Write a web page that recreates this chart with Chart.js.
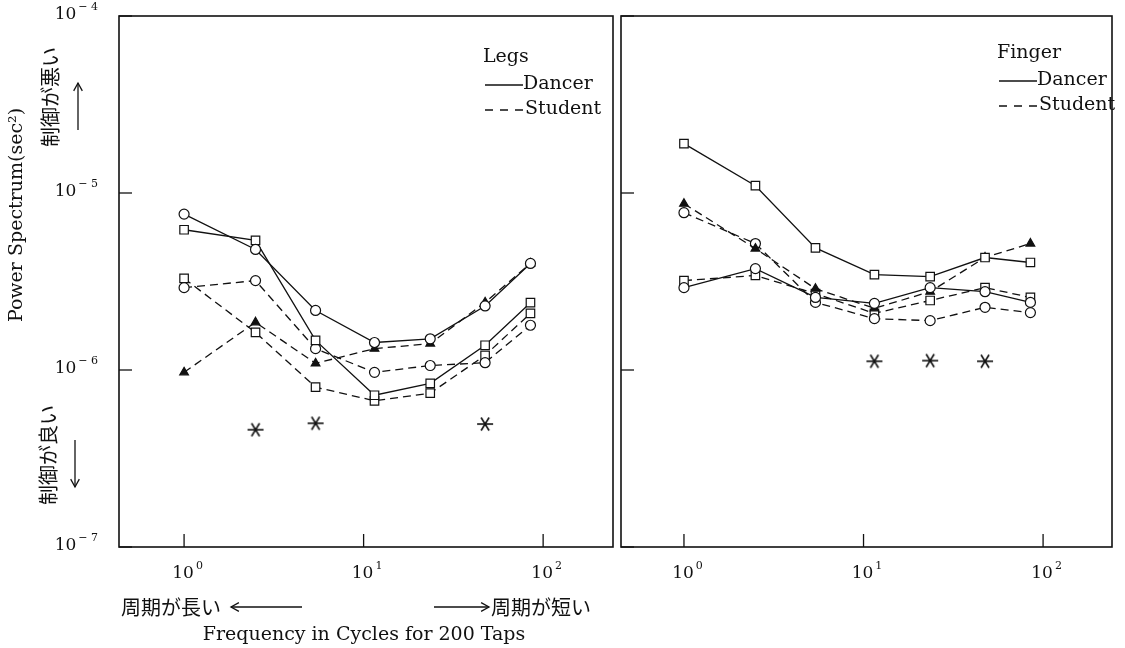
<!DOCTYPE html>
<html>
<head>
<meta charset="utf-8">
<script src="https://cdn.jsdelivr.net/npm/chart.js@4.4.0/dist/chart.umd.min.js"></script>
<style>
  html, body { margin: 0; padding: 0; background: #fff; }
  #wrap { position: relative; width: 1125px; height: 648px; }
  #legs { position: absolute; left: 0; top: 0; }
  #finger { position: absolute; left: 616px; top: 0; }
</style>
</head>
<body>
<div id="wrap">
  <canvas id="legs" width="616" height="648"></canvas>
  <canvas id="finger" width="509" height="648"></canvas>
</div>
<script>
/*  data  */

const freq = [1, 2.5, 5.4, 11.5, 23.5, 47.5, 85];
const yTicks = [1e-4, 1e-5, 1e-6, 1e-7];
const xTicks = [1, 10, 100];

// Legs
const legsDancerCircle   = [7.6e-6, 4.8e-6, 2.17e-6, 1.43e-6, 1.5e-6, 2.3e-6, 4.0e-6];
const legsDancerSquare   = [6.2e-6, 5.4e-6, 1.47e-6, 7.2e-7, 8.4e-7, 1.38e-6, 2.4e-6];
const legsStudentCircle  = [2.92e-6, 3.2e-6, 1.32e-6, 9.7e-7, 1.06e-6, 1.1e-6, 1.79e-6];
const legsStudentSquare  = [3.29e-6, 1.63e-6, 8.0e-7, 6.7e-7, 7.4e-7, 1.21e-6, 2.09e-6];
const legsStudentTri     = [9.7e-7, 1.86e-6, 1.09e-6, 1.32e-6, 1.41e-6, 2.41e-6, 4.0e-6];
const legsStarX = [2.5, 5.4, 47.5];
const legsStarY = [4.6e-7, 5.0e-7, 4.95e-7];

// Finger
const fingerDancerSquare  = [1.9e-5, 1.1e-5, 4.9e-6, 3.46e-6, 3.37e-6, 4.32e-6, 4.05e-6];
const fingerDancerCircle  = [2.92e-6, 3.74e-6, 2.57e-6, 2.38e-6, 2.92e-6, 2.77e-6, 2.41e-6];
const fingerStudentTri    = [8.7e-6, 4.85e-6, 2.88e-6, 2.23e-6, 2.77e-6, 4.32e-6, 5.18e-6];
const fingerStudentCircle = [7.74e-6, 5.18e-6, 2.41e-6, 1.95e-6, 1.9e-6, 2.26e-6, 2.11e-6];
const fingerStudentSquare = [3.2e-6, 3.42e-6, 2.7e-6, 2.09e-6, 2.47e-6, 2.92e-6, 2.57e-6];
const fingerStarX = [11.5, 23.5, 47.5];
const fingerStarY = [1.12e-6, 1.13e-6, 1.12e-6];

const SERIF = '"DejaVu Serif", "Liberation Serif", serif';
const JP = '"Noto Sans CJK JP", sans-serif';
const INK = '#111';


// asterisk used for the significance marks
function makeAsterisk() {
  const c = document.createElement('canvas');
  c.width = 18; c.height = 18;
  const g = c.getContext('2d');
  g.strokeStyle = INK;
  g.lineWidth = 1.6;
  [0, 60, 120].forEach(a => {
    const r = a * Math.PI / 180;
    g.beginPath();
    g.moveTo(9 - 8 * Math.cos(r), 9 - 7.5 * Math.sin(r));
    g.lineTo(9 + 8 * Math.cos(r), 9 + 7.5 * Math.sin(r));
    g.stroke();
  });
  return c;
}
const asterisk = makeAsterisk();

function series(label, values, style, dashed) {
  return {
    label: label,
    data: freq.map((f, i) => ({ x: f, y: values[i] })),
    borderColor: INK,
    borderWidth: 1.3,
    borderDash: dashed ? [8, 5] : [],
    pointStyle: style,
    pointRadius: style === 'rect' ? 6 : 5,
    pointBackgroundColor: style === 'triangle' ? INK : '#fff',
    pointBorderColor: INK,
    pointBorderWidth: 1.2,
    tension: 0
  };
}

function stars(xs, ys) {
  return {
    label: '*',
    data: xs.map((f, i) => ({ x: f, y: ys[i] })),
    showLine: false,
    pointStyle: asterisk,
    pointRadius: 8
  };
}

function panelOptions(padLeft, padRight, xmin, xmax) {
  return {
    responsive: false,
    animation: false,
    events: [],
    layout: { autoPadding: false, padding: { left: padLeft, right: padRight, top: 16, bottom: 101 } },
    scales: {
      x: { type: 'logarithmic', min: xmin, max: xmax, display: false },
      y: { type: 'logarithmic', min: 1e-7, max: 1e-4, display: false }
    },
    plugins: { legend: { display: false }, tooltip: { enabled: false } }
  };
}


/*  drawing helpers  */

function pow10(ctx, exp, x, y, align) {
  const sup = exp < 0 ? '\u2212 ' + (-exp) : String(exp);
  ctx.font = '17px ' + SERIF;
  const bw = ctx.measureText('10').width;
  ctx.font = '11px ' + SERIF;
  const sw = ctx.measureText(sup).width;
  const x0 = align === 'right' ? x - bw - 2 - sw : x - bw / 2;
  ctx.textAlign = 'left';
  ctx.textBaseline = 'middle';
  ctx.font = '17px ' + SERIF;
  ctx.fillText('10', x0, y);
  ctx.font = '11px ' + SERIF;
  ctx.fillText(sup, x0 + bw + 2, y - 8);
}

function line(ctx, x1, y1, x2, y2) {
  ctx.beginPath();
  ctx.moveTo(x1, y1);
  ctx.lineTo(x2, y2);
  ctx.stroke();
}

function arrow(ctx, x1, y1, x2, y2) {
  const ang = Math.atan2(y2 - y1, x2 - x1), h = 9;
  line(ctx, x1, y1, x2, y2);
  ctx.beginPath();
  ctx.moveTo(x2 - h * Math.cos(ang - 0.5), y2 - h * Math.sin(ang - 0.5));
  ctx.lineTo(x2, y2);
  ctx.lineTo(x2 - h * Math.cos(ang + 0.5), y2 - h * Math.sin(ang + 0.5));
  ctx.stroke();
}

function rotatedText(ctx, text, font, x, y) {
  ctx.save();
  ctx.translate(x, y);
  ctx.rotate(-Math.PI / 2);
  ctx.font = font;
  ctx.textAlign = 'center';
  ctx.textBaseline = 'middle';
  ctx.fillText(text, 0, 0);
  ctx.restore();
}

// box, inward ticks, tick labels and the little legend of one panel
function panelPlugin(cfg) {
  return {
    id: 'panel',
    afterDatasetsDraw(chart) {
      const ctx = chart.ctx, a = chart.chartArea;
      const x = chart.scales.x, y = chart.scales.y;
      ctx.save();
      ctx.strokeStyle = INK;
      ctx.fillStyle = INK;
      ctx.lineWidth = 1.6;
      ctx.strokeRect(a.left, a.top, a.right - a.left, a.bottom - a.top);

      ctx.lineWidth = 1.3;
      yTicks.forEach(v => {
        const py = y.getPixelForValue(v);
        line(ctx, a.left, py, a.left + 13, py);
        if (cfg.yLabels) pow10(ctx, Math.round(Math.log10(v)), a.left - 21, py - 1, 'right');
      });
      xTicks.forEach(v => {
        const px = x.getPixelForValue(v);
        line(ctx, px, a.bottom, px, a.bottom - 13);
        pow10(ctx, Math.round(Math.log10(v)), px - 1, 574, 'center');
      });

      // legend
      const L = cfg.legend;
      ctx.font = '19px ' + SERIF;
      ctx.textAlign = 'left';
      ctx.textBaseline = 'alphabetic';
      ctx.fillText(cfg.title, L.x, L.y);
      line(ctx, L.x + 2, L.y + 23, L.x + 40, L.y + 23);
      ctx.fillText('Dancer', L.x + 40, L.y + 27);
      ctx.setLineDash([8, 7]);
      line(ctx, L.x + 2, L.y + 48, L.x + 40, L.y + 48);
      ctx.setLineDash([]);
      ctx.fillText('Student', L.x + 42, L.y + 52);
      ctx.restore();
    }
  };
}

// axis titles and the Japanese notes around the left panel
const notesPlugin = {
  id: 'notes',
  afterDraw(chart) {
    const ctx = chart.ctx;
    ctx.save();
    ctx.fillStyle = INK;
    ctx.strokeStyle = INK;
    ctx.lineWidth = 1.3;

    rotatedText(ctx, 'Power Spectrum(sec\u00B2)', '19px ' + SERIF, 17, 215);
    rotatedText(ctx, '制御が悪い', '20px ' + JP, 50, 97);
    arrow(ctx, 78, 130, 78, 83);
    rotatedText(ctx, '制御が良い', '20px ' + JP, 48, 455);
    arrow(ctx, 75, 440, 75, 487);

    ctx.font = '20px ' + JP;
    ctx.textBaseline = 'middle';
    ctx.textAlign = 'left';
    ctx.fillText('周期が長い', 121, 607);
    arrow(ctx, 302, 607, 231, 607);
    arrow(ctx, 434, 607, 489, 607);
    ctx.fillText('周期が短い', 491, 607);

    ctx.font = '19px ' + SERIF;
    ctx.textAlign = 'center';
    ctx.textBaseline = 'alphabetic';
    ctx.fillText('Frequency in Cycles for 200 Taps', 364, 640);
    ctx.restore();
  }
};


/*  LEGS  */

new Chart(document.getElementById('legs'), {
  type: 'line',
  data: {
    datasets: [
      series('Dancer', legsDancerCircle, 'circle', false),
      series('Dancer', legsDancerSquare, 'rect', false),
      series('Student', legsStudentCircle, 'circle', true),
      series('Student', legsStudentSquare, 'rect', true),
      series('Student', legsStudentTri, 'triangle', true),
      stars(legsStarX, legsStarY)
    ]
  },
  options: panelOptions(119, 3, 0.434, 245),
  plugins: [panelPlugin({ title: 'Legs', yLabels: true, legend: { x: 483, y: 62 } }), notesPlugin]
});


/*  FINGER  */

new Chart(document.getElementById('finger'), {
  type: 'line',
  data: {
    datasets: [
      series('Dancer', fingerDancerSquare, 'rect', false),
      series('Dancer', fingerDancerCircle, 'circle', false),
      series('Student', fingerStudentTri, 'triangle', true),
      series('Student', fingerStudentCircle, 'circle', true),
      series('Student', fingerStudentSquare, 'rect', true),
      stars(fingerStarX, fingerStarY)
    ]
  },
  options: panelOptions(5, 13, 0.446, 242),
  plugins: [panelPlugin({ title: 'Finger', yLabels: false, legend: { x: 381, y: 58 } })]
});
</script>
</body>
</html>
